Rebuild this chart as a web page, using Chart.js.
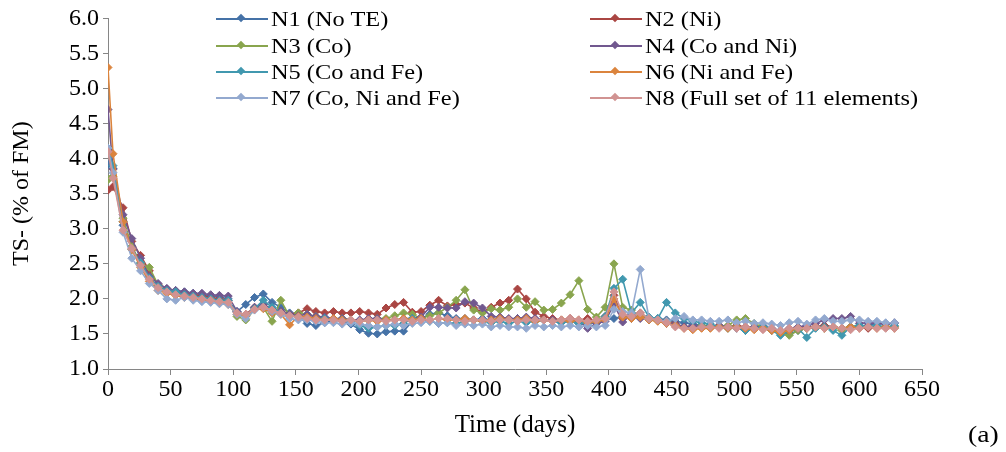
<!DOCTYPE html>
<html>
<head>
<meta charset="utf-8">
<script src="https://cdn.jsdelivr.net/npm/chart.js@4.4.1/dist/chart.umd.min.js"></script>
<style>
  body { margin: 0; background: #fff; }
  #wrap { position: relative; width: 1006px; height: 452px; background: #fff; font-family: 'Liberation Serif', 'Times New Roman', serif; }
  .leg { position: absolute; height: 26px; font-size: 21px; line-height: 26px; color: #000; white-space: nowrap; }
  .leg .ln { position: absolute; left: 0; top: 12px; width: 52px; height: 2px; }
  .leg .mk { position: absolute; left: 22px; top: 9px; width: 6px; height: 6px; transform: rotate(45deg); }
  .leg .tx { position: absolute; left: 55px; top: 0; transform: scaleX(1.16); transform-origin: left center; }
  #tag { position: absolute; left: 968px; top: 421px; font-size: 24px; color: #000; transform: scaleX(1.15); transform-origin: left center; }
</style>
</head>
<body>
<div id="wrap">
  <canvas id="myChart" width="1006" height="452"></canvas>
  <div id="legend"></div>
  <div id="tag">(a)</div>
</div>
<script>
// sampling days (about weekly)
var days = [0, 4, 12, 19, 26, 33, 40, 47, 54, 61,
  68, 75, 82, 89, 96, 103, 110, 117, 124, 131,
  138, 145, 152, 159, 166, 173, 180, 187, 194, 201,
  208, 215, 222, 229, 236, 243, 250, 257, 264, 271,
  278, 285, 292, 299, 306, 313, 320, 327, 334, 341,
  348, 355, 362, 369, 376, 383, 390, 397, 404, 411,
  418, 425, 432, 439, 446, 453, 460, 467, 474, 481,
  488, 495, 502, 509, 516, 523, 530, 537, 544, 551,
  558, 565, 572, 579, 586, 593, 600, 607, 614, 621,
  628];

var names = ['N1 (No TE)', 'N2 (Ni)', 'N3 (Co)', 'N4 (Co and Ni)',
  'N5 (Co and Fe)', 'N6 (Ni and Fe)', 'N7 (Co, Ni and Fe)', 'N8 (Full set of 11 elements)'];

var yTicks = [1.0, 1.5, 2.0, 2.5, 3.0, 3.5, 4.0, 4.5, 5.0, 5.5, 6.0];
var xTicks = [0, 50, 100, 150, 200, 250, 300, 350, 400, 450, 500, 550, 600, 650];

var n1 = [3.92, 3.86, 3.05, 2.75, 2.5, 2.3, 2.18, 2.14, 2.12, 2.1,
  2.08, 2.06, 2.04, 2.03, 2.0, 1.82, 1.92, 2.02, 2.07, 1.95,
  1.88, 1.8, 1.75, 1.65, 1.62, 1.66, 1.7, 1.68, 1.64, 1.56,
  1.51, 1.5, 1.53, 1.54, 1.54, 1.68, 1.72, 1.78, 1.8, 1.76,
  1.72, 1.72, 1.7, 1.72, 1.7, 1.72, 1.7, 1.72, 1.7, 1.68,
  1.7, 1.68, 1.66, 1.68, 1.65, 1.62, 1.68, 1.7, 1.72, 1.75,
  1.72, 1.74, 1.7, 1.72, 1.7, 1.68, 1.66, 1.64, 1.62, 1.62,
  1.6, 1.6, 1.58, 1.55, 1.6, 1.62, 1.58, 1.55, 1.5, 1.55,
  1.58, 1.6, 1.62, 1.6, 1.58, 1.6, 1.62, 1.62, 1.65, 1.65,
  1.65];
var n2 = [3.55, 3.6, 3.3, 2.82, 2.62, 2.4, 2.2, 2.14, 2.1, 2.08,
  2.06, 2.04, 2.02, 2.0, 1.98, 1.8, 1.78, 1.88, 1.92, 1.85,
  1.82, 1.78, 1.8, 1.86, 1.82, 1.8, 1.82, 1.8, 1.8, 1.82,
  1.8, 1.78, 1.87, 1.92, 1.95, 1.81, 1.82, 1.91, 1.98, 1.9,
  1.92, 1.94, 1.87, 1.81, 1.88, 1.94, 1.98, 2.14, 2.0, 1.81,
  1.75, 1.72, 1.7, 1.72, 1.7, 1.72, 1.68, 1.75, 2.05, 1.72,
  1.75, 1.8, 1.72, 1.7, 1.68, 1.65, 1.6, 1.58, 1.6, 1.6,
  1.62, 1.6, 1.62, 1.6, 1.6, 1.58, 1.55, 1.52, 1.55, 1.58,
  1.6, 1.6, 1.62, 1.6, 1.58, 1.6, 1.6, 1.58, 1.6, 1.6,
  1.6];
var n3 = [3.7, 3.75, 3.15, 2.75, 2.5, 2.45, 2.2, 2.12, 2.08, 2.05,
  2.02, 2.0, 1.98, 1.96, 1.95, 1.75, 1.7, 1.85, 1.88, 1.68,
  1.98, 1.75, 1.8, 1.78, 1.75, 1.72, 1.7, 1.72, 1.7, 1.68,
  1.7, 1.72, 1.72, 1.76, 1.8, 1.78, 1.72, 1.76, 1.8, 1.88,
  1.98, 2.13, 1.84, 1.8, 1.86, 1.84, 1.88, 2.0, 1.88, 1.96,
  1.84, 1.85, 1.94, 2.06, 2.26, 1.85, 1.74, 1.88, 2.5, 1.88,
  1.84, 1.75, 1.72, 1.7, 1.68, 1.62, 1.6, 1.6, 1.62, 1.6,
  1.6, 1.62, 1.7, 1.72, 1.65, 1.6, 1.56, 1.5, 1.48, 1.55,
  1.58, 1.6, 1.58, 1.6, 1.55, 1.6, 1.62, 1.6, 1.6, 1.6,
  1.6];
var n4 = [4.7, 3.85, 3.2, 2.86, 2.58, 2.32, 2.22, 2.15, 2.12, 2.1,
  2.08, 2.08, 2.06, 2.05, 2.04, 1.82, 1.76, 1.88, 1.92, 1.86,
  1.82, 1.78, 1.76, 1.78, 1.75, 1.74, 1.72, 1.72, 1.7, 1.7,
  1.72, 1.72, 1.7, 1.7, 1.72, 1.72, 1.74, 1.88, 1.88, 1.87,
  1.87, 1.96, 1.94, 1.87, 1.75, 1.74, 1.72, 1.72, 1.74, 1.72,
  1.7, 1.7, 1.68, 1.7, 1.68, 1.58, 1.65, 1.68, 1.92, 1.67,
  1.78, 1.72, 1.72, 1.7, 1.65, 1.64, 1.6, 1.62, 1.6, 1.6,
  1.62, 1.6, 1.6, 1.58, 1.6, 1.58, 1.56, 1.55, 1.58, 1.6,
  1.62, 1.65, 1.7, 1.72, 1.72, 1.75, 1.65, 1.66, 1.65, 1.64,
  1.66];
var n5 = [4.15, 3.9, 3.1, 2.7, 2.52, 2.3, 2.18, 2.12, 2.1, 2.06,
  2.04, 2.02, 2.0, 1.98, 1.98, 1.8, 1.76, 1.86, 1.98, 1.88,
  1.8, 1.76, 1.74, 1.72, 1.7, 1.72, 1.7, 1.7, 1.68, 1.62,
  1.58, 1.6, 1.62, 1.62, 1.65, 1.72, 1.7, 1.68, 1.65, 1.66,
  1.65, 1.68, 1.7, 1.68, 1.66, 1.68, 1.65, 1.68, 1.66, 1.68,
  1.7, 1.68, 1.66, 1.68, 1.65, 1.66, 1.68, 1.75, 2.15, 2.28,
  1.8, 1.95, 1.74, 1.72, 1.95, 1.8, 1.72, 1.68, 1.66, 1.64,
  1.6, 1.58, 1.6, 1.55, 1.58, 1.6, 1.55, 1.48, 1.55, 1.58,
  1.45, 1.58, 1.6, 1.55, 1.48, 1.6, 1.62, 1.6, 1.62, 1.6,
  1.62];
var n6 = [5.3, 4.07, 3.1, 2.7, 2.45, 2.25, 2.12, 2.08, 2.05, 2.02,
  2.0, 1.98, 1.96, 1.94, 1.92, 1.78, 1.75, 1.85, 1.86, 1.8,
  1.78, 1.63, 1.75, 1.74, 1.72, 1.7, 1.72, 1.7, 1.7, 1.68,
  1.7, 1.68, 1.7, 1.7, 1.72, 1.7, 1.72, 1.7, 1.72, 1.7,
  1.7, 1.72, 1.7, 1.68, 1.7, 1.72, 1.7, 1.7, 1.72, 1.68,
  1.7, 1.68, 1.7, 1.68, 1.7, 1.66, 1.68, 1.7, 2.0, 1.74,
  1.72, 1.74, 1.7, 1.68, 1.65, 1.62, 1.58, 1.56, 1.58, 1.58,
  1.6, 1.58, 1.6, 1.58, 1.56, 1.58, 1.55, 1.52, 1.55, 1.58,
  1.58, 1.6, 1.58, 1.6, 1.58, 1.6, 1.58, 1.6, 1.58, 1.6,
  1.58];
var n7 = [4.15, 3.8, 2.95, 2.58, 2.4, 2.22, 2.12, 2.0, 1.98, 2.02,
  1.98, 1.96, 1.95, 1.93, 1.92, 1.78, 1.72, 1.84, 1.88, 1.82,
  1.78, 1.72, 1.7, 1.7, 1.68, 1.66, 1.66, 1.64, 1.66, 1.64,
  1.62, 1.6, 1.62, 1.64, 1.62, 1.65, 1.66, 1.68, 1.65, 1.66,
  1.62, 1.64, 1.62, 1.64, 1.6, 1.62, 1.6, 1.6, 1.58, 1.62,
  1.6, 1.62, 1.6, 1.62, 1.6, 1.62, 1.6, 1.62, 1.85, 1.82,
  1.8, 2.42, 1.72, 1.7, 1.68, 1.72, 1.75, 1.7, 1.7, 1.68,
  1.68, 1.7, 1.66, 1.68, 1.65, 1.66, 1.64, 1.62, 1.66, 1.68,
  1.64, 1.7, 1.72, 1.68, 1.68, 1.7, 1.7, 1.68, 1.68, 1.66,
  1.66];
var n8 = [4.1, 3.72, 2.98, 2.72, 2.48, 2.28, 2.16, 2.1, 2.06, 2.04,
  2.02, 2.0, 1.98, 1.96, 1.95, 1.8, 1.78, 1.85, 1.88, 1.84,
  1.8, 1.76, 1.74, 1.72, 1.7, 1.7, 1.7, 1.68, 1.7, 1.68,
  1.7, 1.7, 1.68, 1.7, 1.7, 1.68, 1.7, 1.7, 1.72, 1.72,
  1.7, 1.68, 1.7, 1.7, 1.68, 1.7, 1.7, 1.68, 1.7, 1.7,
  1.7, 1.68, 1.7, 1.72, 1.7, 1.68, 1.7, 1.72, 2.1, 1.78,
  1.75, 1.8, 1.72, 1.7, 1.66, 1.6, 1.58, 1.58, 1.6, 1.6,
  1.58, 1.6, 1.58, 1.6, 1.58, 1.56, 1.58, 1.55, 1.58, 1.58,
  1.58, 1.6, 1.58, 1.6, 1.58, 1.56, 1.58, 1.6, 1.58, 1.58,
  1.58];

var series = [n1, n2, n3, n4, n5, n6, n7, n8];
var colors = ['#4572A7', '#AA4643', '#89A54E', '#71588F', '#4198AF', '#DB843D', '#93A9CF', '#D19392'];

var serif = "'Liberation Serif', 'Times New Roman', serif";

// datasets, N8 drawn last (on top) like the original
var datasets = series.map(function (vals, i) {
  return {
    label: names[i],
    data: vals.map(function (v, k) { return { x: days[k], y: v }; }),
    borderColor: colors[i],
    backgroundColor: colors[i],
    borderWidth: 1.6,
    pointStyle: 'rectRot',
    pointRadius: 4,
    pointBorderWidth: 1,
    tension: 0,
    order: series.length - i
  };
});

const config = {
  type: 'line',
  data: { datasets: datasets },
  options: {
    responsive: false,
    animation: false,
    devicePixelRatio: 1,
    layout: { padding: { left: 0, right: 84, top: 17, bottom: 0 } },
    plugins: { legend: { display: false }, tooltip: { enabled: false } },
    scales: {
      x: {
        type: 'linear',
        min: 0,
        max: 650,
        afterBuildTicks: function (scale) { scale.ticks = xTicks.map(function (v) { return { value: v }; }); },
        afterFit: function (scale) { scale.height = 83; },
        ticks: { color: '#000', font: { family: serif, size: 24 }, padding: 0, maxRotation: 0, autoSkip: false },
        grid: { drawOnChartArea: false, drawTicks: true, tickLength: 6, color: '#868686' },
        border: { color: '#868686', width: 1 },
        title: { display: true, text: 'Time (days)', color: '#000', font: { family: serif, size: 25 }, padding: { top: 0, bottom: 12 } }
      },
      y: {
        min: 1,
        max: 6,
        afterBuildTicks: function (scale) { scale.ticks = yTicks.map(function (v) { return { value: v }; }); },
        afterFit: function (scale) { scale.width = 108; },
        ticks: {
          color: '#000', font: { family: serif, size: 24 }, padding: 4, autoSkip: false,
          callback: function (v) { return Number(v).toFixed(1); }
        },
        grid: { drawOnChartArea: false, drawTicks: true, tickLength: 5, color: '#868686' },
        border: { color: '#868686', width: 1 },
        title: { display: true, text: 'TS- (% of FM)', color: '#000', font: { family: serif, size: 24 }, padding: { top: 7, bottom: 0 } }
      }
    }
  }
};

const myChart = new Chart(document.getElementById('myChart'), config);

// legend in two columns inside the plot, like the original
var legendBox = document.getElementById('legend');
var colX = [216, 590];
var rowY = [6, 33, 59, 85];
names.forEach(function (name, i) {
  var item = document.createElement('div');
  item.className = 'leg';
  item.style.left = colX[i % 2] + 'px';
  item.style.top = rowY[Math.floor(i / 2)] + 'px';
  item.innerHTML = '<span class="ln" style="background:' + colors[i] + '"></span>' +
    '<span class="mk" style="background:' + colors[i] + '"></span>' +
    '<span class="tx"></span>';
  item.querySelector('.tx').textContent = name;
  legendBox.appendChild(item);
});
</script>
</body>
</html>
